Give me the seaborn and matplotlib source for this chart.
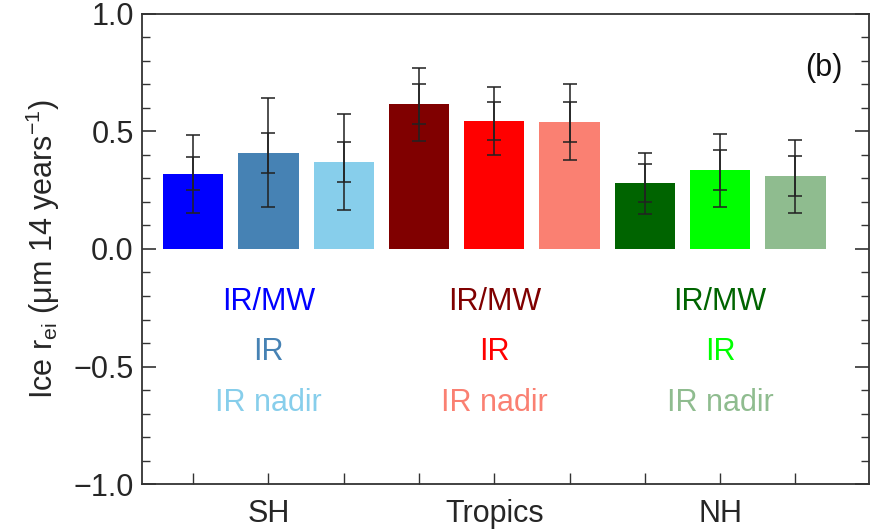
import matplotlib
matplotlib.use("Agg")
import matplotlib.pyplot as plt
from matplotlib.ticker import MultipleLocator
import seaborn as sns
import pandas as pd
import numpy as np

# ---- data ----
bar_ids = ["SH IR/MW", "SH IR", "SH IR nadir",
           "Tropics IR/MW", "Tropics IR", "Tropics IR nadir",
           "NH IR/MW", "NH IR", "NH IR nadir"]
values = [0.32, 0.41, 0.37, 0.615, 0.545, 0.54, 0.28, 0.335, 0.31]
err_outer = [0.165, 0.23, 0.205, 0.155, 0.145, 0.16, 0.13, 0.155, 0.155]
err_inner = [0.07, 0.085, 0.085, 0.085, 0.08, 0.085, 0.08, 0.085, 0.085]
colors = ["#0000FF", "#4682B4", "#87CEEB",
          "#800000", "#FF0000", "#FA8072",
          "#006400", "#00FF00", "#8FBC8F"]
regions = ["SH", "Tropics", "NH"]
products = ["IR/MW", "IR", "IR nadir"]
y_ticks = [-1.0, -0.5, 0.0, 0.5, 1.0]
y_tick_labels = ["\u22121.0", "\u22120.5", "0.0", "0.5", "1.0"]

sns.set_theme(style="white")
plt.rcParams["font.family"] = ["Liberation Sans", "DejaVu Sans"]
plt.rcParams["mathtext.fontset"] = "custom"
plt.rcParams["mathtext.rm"] = "Liberation Sans"
plt.rcParams["mathtext.it"] = "Liberation Sans"

fig = plt.figure(figsize=(8.71, 5.32), dpi=100)
ax = fig.add_axes([0.163, 0.090, 0.835, 0.884])

df = pd.DataFrame({"bar": bar_ids, "value": values})
sns.barplot(data=df, x="bar", y="value", hue="bar", order=bar_ids,
            hue_order=bar_ids, palette=colors, legend=False, width=0.8,
            saturation=1.0, ax=ax, linewidth=0)

xpos = np.arange(len(bar_ids))
ax.errorbar(xpos, values, yerr=err_outer, fmt="none", ecolor="#222222",
            elinewidth=1.4, capsize=4.8, capthick=1.4, alpha=0.8, zorder=5)
ax.errorbar(xpos, values, yerr=err_inner, fmt="none", ecolor="#222222",
            elinewidth=1.4, capsize=4.8, capthick=1.4, alpha=0.8, zorder=5)

# product labels under each group
label_y = [-0.225, -0.44, -0.655]
for g, reg in enumerate(regions):
    for k, prod in enumerate(products):
        ax.text(g * 3 + 1, label_y[k], prod, color=colors[g * 3 + k],
                ha="center", va="center", fontsize=22)

ax.text(8.62, 0.77, "(b)", ha="right", va="center", fontsize=22, color="#111111")

ax.set_xlim(-0.68, 8.98)
ax.set_ylim(-1.0, 1.0)
ax.set_xticks(xpos)
ax.set_xticklabels(["", "SH", "", "", "Tropics", "", "", "NH", ""])
ax.set_yticks(y_ticks)
ax.set_yticklabels(y_tick_labels)
ax.yaxis.set_minor_locator(MultipleLocator(0.1))
ax.set_xlabel("")
ax.set_ylabel("Ice r$_{\\mathregular{ei}}$ (\u03bcm 14 years$^{\\mathregular{-1}}$)",
              fontsize=22, labelpad=8)

for s in ax.spines.values():
    s.set_visible(True)
    s.set_color("#333333")
    s.set_linewidth(1.3)

ax.tick_params(axis="y", which="major", direction="in", length=10, width=1.2,
               left=True, right=True, labelsize=22, color="#333333", pad=6)
ax.tick_params(axis="y", which="minor", direction="in", length=6, width=1.0,
               left=True, right=True, color="#333333")
ax.tick_params(axis="x", which="major", direction="in", length=8, width=1.0,
               bottom=True, top=False, labelsize=22, color="#333333", pad=11)

fig.savefig("out.png", dpi=100)
